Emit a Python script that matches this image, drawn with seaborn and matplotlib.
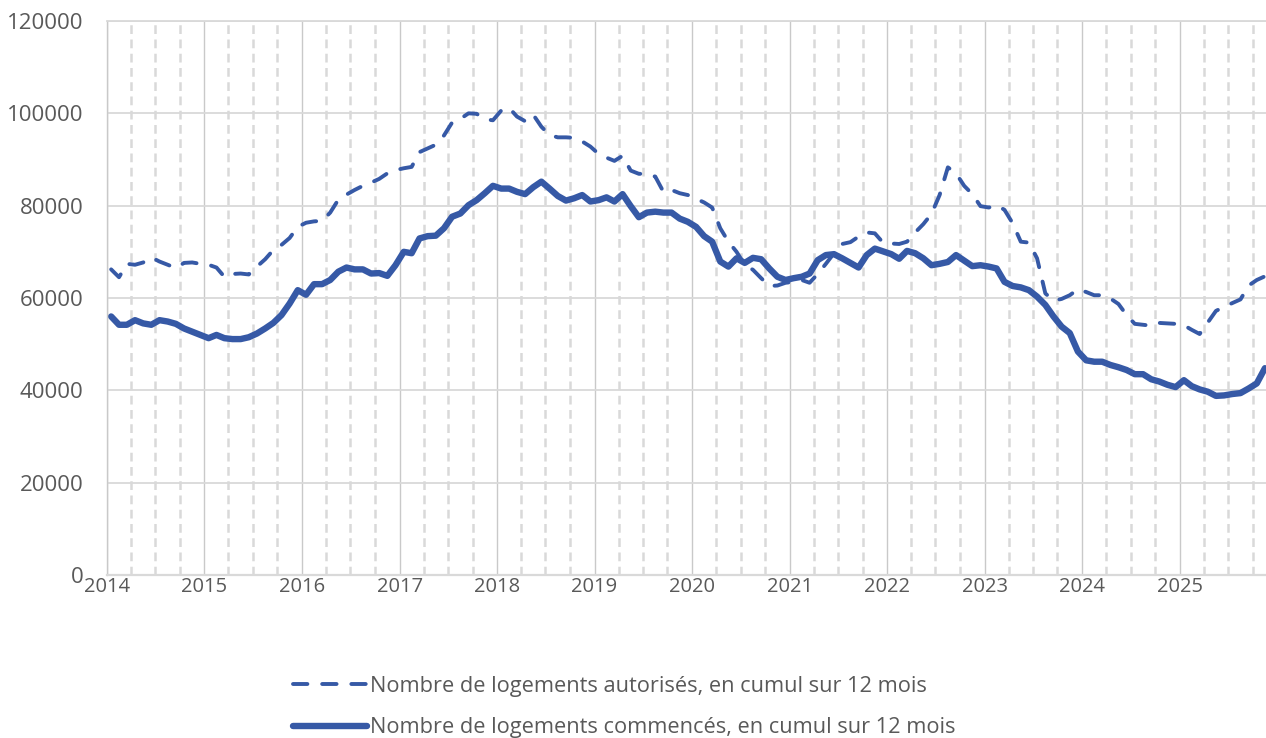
import matplotlib
matplotlib.use("Agg")
from matplotlib import pyplot as plt
import matplotlib.dates as mdates
import pandas as pd
import seaborn as sns

# monthly 12-month rolling totals, Jan 2014 -> Nov 2025
months = pd.period_range("2014-01", "2025-11", freq="M")

autorises = [
    66200, 64500, 67400, 67200, 67700, 68800, 67900, 67200, 66500, 67600, 67700, 67400,
    67200, 66600, 64600, 65200, 65300, 65100, 66800, 68400, 70400, 71500, 73000, 75400,
    76300, 76600, 76700, 78500, 81300, 82400, 83400, 84300, 85000, 85800, 87000, 87700,
    88100, 88400, 91600, 92400, 93200, 95200, 98000, 98800, 100000, 99900, 98700, 98500,
    100600, 101200, 99300, 98300, 99700, 97100, 95300, 94800, 94800, 94700, 93900, 92800,
    91200, 90400, 89700, 90800, 87600, 86900, 86900, 86300, 83000, 83400, 82700, 82300,
    81500, 80700, 79600, 75100, 72200, 70000, 67200, 66100, 64300, 62600, 62700, 63300,
    63500, 63900, 63300, 65200, 67400, 69700, 71700, 72100, 73300, 74200, 74000, 72000,
    71800, 71700, 72200, 74200, 76000, 78200, 82300, 88300, 87000, 84300, 82500, 79900,
    79600, 80100, 79100, 76200, 72200, 72000, 68600, 61000, 59400, 59800, 60600, 61900,
    61300, 60600, 60600, 59900, 58700, 56300, 54400, 54200, 54000, 54600, 54500, 54400,
    54100, 53100, 52200, 54700, 57200, 58100, 58900, 59700, 62700, 63900, 64700,
]

commences = [
    56000, 54200, 54200, 55200, 54500, 54200, 55200, 54900, 54400, 53400, 52700, 52000,
    51300, 52000, 51300, 51100, 51100, 51500, 52300, 53400, 54600, 56300, 58800, 61700,
    60700, 63000, 63000, 63900, 65700, 66600, 66200, 66200, 65300, 65400, 64800, 67100,
    70000, 69700, 72900, 73400, 73500, 75100, 77600, 78300, 80100, 81200, 82700, 84300,
    83700, 83700, 83000, 82500, 84000, 85200, 83700, 82100, 81100, 81600, 82300, 80900,
    81200, 81800, 80900, 82500, 79900, 77500, 78500, 78700, 78500, 78500, 77200, 76500,
    75400, 73400, 72200, 67900, 66800, 68600, 67600, 68700, 68400, 66400, 64600, 63900,
    64300, 64600, 65300, 68200, 69300, 69500, 68600, 67600, 66600, 69300, 70700, 70100,
    69500, 68500, 70200, 69700, 68600, 67100, 67400, 67800, 69300, 68100, 66900, 67100,
    66800, 66400, 63500, 62600, 62300, 61700, 60300, 58500, 56000, 53800, 52400, 48400,
    46500, 46200, 46200, 45500, 45000, 44400, 43500, 43500, 42400, 41900, 41200, 40700,
    42200, 40900, 40200, 39700, 38800, 38900, 39200, 39400, 40400, 41500, 44800,
]

label_aut = "Nombre de logements autorisés, en cumul sur 12 mois"
label_com = "Nombre de logements commencés, en cumul sur 12 mois"

# each month sits in the middle of its slot on the date axis
mid = months.start_time + (months.end_time - months.start_time) / 2
df = pd.DataFrame({"mois": mid, "autorises": autorises, "commences": commences})

sns.set_style("white")
plt.rcParams["font.family"] = ["Open Sans", "DejaVu Sans"]

blue = "#3659a6"
grey_txt = "#595959"
grid_c = "#d9d9d9"

fig = plt.figure(figsize=(12.66, 7.38), dpi=100)
ax = fig.add_axes([107 / 1266, 163 / 738, 1159 / 1266, 554 / 738])

sns.lineplot(data=df, x="mois", y="autorises", ax=ax, color=blue, linewidth=2.8,
             linestyle=(0, (3.7, 3.8)), dash_capstyle="round", label=label_aut)
sns.lineplot(data=df, x="mois", y="commences", ax=ax, color=blue, linewidth=4.6,
             solid_capstyle="round", solid_joinstyle="round", label=label_com)

ax.set_xlim(pd.Timestamp("2014-01-01"), pd.Timestamp("2025-11-20"))
ax.set_ylim(0, 120000)
ax.set_yticks(range(0, 120001, 20000))
ax.yaxis.set_major_formatter(matplotlib.ticker.FuncFormatter(lambda v, p: f"{int(v)}"))

ax.xaxis.set_major_locator(mdates.YearLocator())
ax.xaxis.set_major_formatter(mdates.DateFormatter("%Y"))
ax.xaxis.set_minor_locator(mdates.MonthLocator(bymonth=[4, 7, 10]))

ax.set_axisbelow(True)
ax.grid(axis="y", color=grid_c, linewidth=1.3)
ax.grid(axis="x", which="major", color="#c9c9c9", linewidth=1.0)
ax.grid(axis="x", which="minor", color=grid_c, linewidth=1.8, linestyle=(0, (3.5, 2.2)))

ax.spines["right"].set_visible(False)
ax.spines["top"].set_color(grid_c)
ax.spines["top"].set_linewidth(1.3)
ax.spines["bottom"].set_color(grid_c)
ax.spines["bottom"].set_linewidth(1.6)
ax.spines["left"].set_color("#c9c9c9")
ax.spines["left"].set_linewidth(1.0)

ax.tick_params(axis="y", length=0, pad=17, labelsize=16, labelcolor=grey_txt)
ax.tick_params(axis="x", which="major", length=6, width=1.0, color="#c9c9c9",
               pad=-4.5, labelsize=14.5, labelcolor=grey_txt)
ax.tick_params(axis="x", which="minor", length=0)
ax.set_xlabel("")
ax.set_ylabel("")

handles, labels = ax.get_legend_handles_labels()
ax.get_legend().remove()
fig.legend(handles, labels, loc="center left", bbox_to_anchor=(293 / 1266, 31 / 738),
           frameon=False, handlelength=3.4, handletextpad=0.12, labelspacing=0.95,
           borderpad=0, borderaxespad=0, fontsize=15.7, labelcolor=grey_txt)

fig.savefig("out.png", dpi=100)
